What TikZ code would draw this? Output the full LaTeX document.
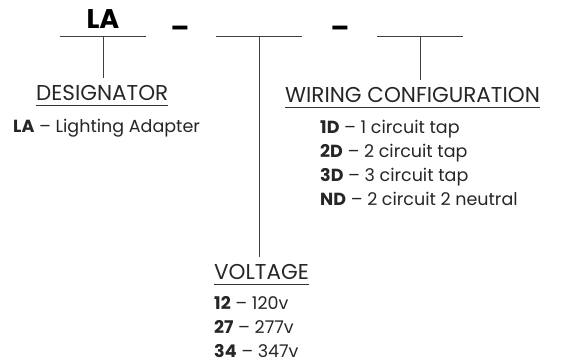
\documentclass[tikz,border=0pt]{standalone}
\usepackage{fontspec}
\setmainfont{Poppins}
\usepackage{tikz}
\usetikzlibrary{arrows.meta, positioning, calc}

\begin{document}
\begin{tikzpicture}[
  x=1pt, y=-1pt,
  rule/.style={line width=1pt, draw=black!75},
  code/.style={inner sep=0pt, anchor=base, font=\fontsize{27}{30}\selectfont\bfseries},
  head/.style={inner sep=0pt, anchor=base west, font=\fontsize{21.5}{25}\selectfont, text=black!85},
  item/.style={inner sep=0pt, anchor=base west, font=\fontsize{17.5}{21}\selectfont, text=black!85},
]
\useasboundingbox (0,0) rectangle (561,362);

% part number
\node[code] (prefix) at (103,28) {LA};
\node[code] (sep1) at (180,37) {–};
\node[code] (sep2) at (340,37) {–};

% blanks
\coordinate (blank1w) at (60,36);  \coordinate (blank1e) at (146,36);
\coordinate (blank2w) at (216,36); \coordinate (blank2e) at (302,36);
\coordinate (blank3w) at (377,36); \coordinate (blank3e) at (463,36);
\coordinate (blank1) at ($(blank1w)!0.5!(blank1e)$);
\coordinate (blank2) at ($(blank2w)!0.5!(blank2e)$);
\coordinate (blank3) at ($(blank3w)!0.5!(blank3e)$);
\foreach \i in {1,2,3} {
  \draw[rule] (blank\i w) -- (blank\i e);
}

% headings
\node[head] (desig) at (36,100) {DESIGNATOR};
\node[head] (wiring) at (285,102) {WIRING CONFIGURATION};
\node[head] (volt) at (214,279) {VOLTAGE};
\foreach \h in {desig, wiring, volt} {
  \draw[line width=0.8pt, black!80] ([yshift=-5pt]\h.base west) -- ([yshift=-5pt]\h.base east);
}

% connectors
\draw[rule, shorten >=7pt] (blank1) -- (blank1 |- desig.north);
\draw[rule, shorten >=7pt] (blank2) -- (blank2 |- volt.north);
\draw[rule, shorten >=7pt] (blank3) -- (blank3 |- wiring.north);

% options
\node[item] (desig1) at (13,132) {\textbf{LA} – Lighting Adapter};
\foreach \c/\t [count=\i] in {1D/1 circuit tap, 2D/2 circuit tap, 3D/3 circuit tap, ND/2 circuit 2 neutral} {
  \node[item] (wiring\i) at (320,{109+24*\i}) {\textbf{\c} – \t};
}
\foreach \c/\t [count=\i] in {12/120v, 27/277v, 34/347v} {
  \node[item] (volt\i) at (214,{285+24*\i}) {\textbf{\c} – \t};
}

\end{tikzpicture}
\end{document}
